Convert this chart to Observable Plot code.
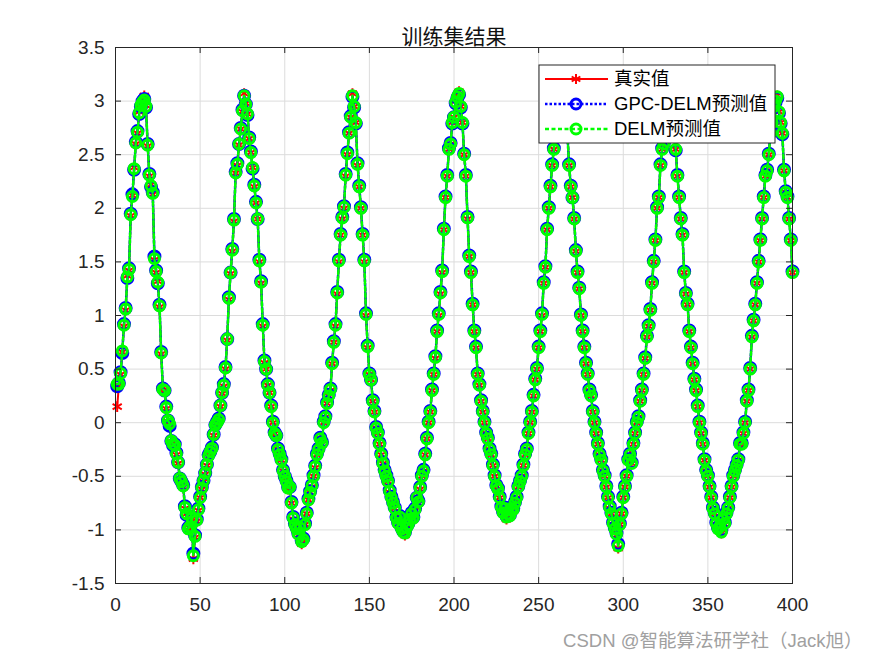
<!DOCTYPE html>
<html><head><meta charset="utf-8">
<script src="https://cdn.jsdelivr.net/npm/d3@7"></script>
<script src="https://cdn.jsdelivr.net/npm/@observablehq/plot@0.6"></script>
<style>body{margin:0;background:#fff;} #chart{width:875px;height:656px;}</style>
</head><body><div id="chart"></div>
<script>
const trueVals = [
0.15,0.35,0.45,0.66,0.9,1.05,1.37,1.42,1.93,2.12,
2.38,2.6,2.7,2.9,2.97,3.01,3.05,2.96,2.58,2.3,
2.22,2.13,1.52,1.4,1.32,1.08,0.64,0.3,0.29,0.13,
0.01,-0.02,-0.18,-0.2,-0.22,-0.3,-0.38,-0.53,-0.56,-0.6,
-0.8,-0.85,-1.0,-0.98,-0.9,-1.27,-1.07,-0.92,-0.82,-0.7,
-0.62,-0.55,-0.48,-0.4,-0.32,-0.28,-0.25,-0.12,-0.03,0.0,
0.02,0.15,0.27,0.34,0.5,0.77,1.15,1.39,1.6,1.88,
2.33,2.4,2.59,2.74,2.9,3.07,2.98,2.88,2.65,2.52,
2.38,2.2,2.05,1.9,1.5,1.3,0.9,0.56,0.5,0.35,
0.28,0.15,0.0,-0.1,-0.13,-0.25,-0.3,-0.35,-0.45,-0.5,
-0.55,-0.62,-0.6,-0.75,-0.9,-0.95,-1.0,-1.05,-0.98,-1.13,
-1.1,-0.95,-0.85,-0.72,-0.65,-0.6,-0.5,-0.42,-0.3,-0.25,
-0.15,-0.2,0.0,0.05,0.18,0.25,0.3,0.55,0.75,0.9,
1.2,1.5,1.75,1.9,2.0,2.3,2.5,2.7,2.85,3.07,
2.95,2.8,2.4,2.2,2.0,1.75,1.5,1.0,0.7,0.45,
0.4,0.2,0.1,-0.05,-0.1,-0.2,-0.3,-0.38,-0.45,-0.5,
-0.55,-0.65,-0.7,-0.75,-0.8,-0.9,-0.95,-0.88,-1.0,-1.03,
-1.05,-0.98,-0.95,-0.9,-0.85,-0.9,-0.82,-0.7,-0.75,-0.62,
-0.5,-0.45,-0.3,-0.15,0.0,0.1,0.3,0.45,0.6,0.85,
1.0,1.2,1.4,1.8,2.1,2.3,2.55,2.6,2.8,2.85,
3.0,3.05,3.09,2.95,2.8,2.5,2.3,1.9,1.55,1.4,
1.1,0.85,0.7,0.45,0.35,0.2,0.1,0.0,-0.1,-0.15,
-0.25,-0.3,-0.4,-0.5,-0.6,-0.62,-0.7,-0.8,-0.85,-0.8,
-0.9,-0.85,-0.88,-0.8,-0.82,-0.75,-0.7,-0.6,-0.55,-0.5,
-0.4,-0.3,-0.25,-0.1,0.0,0.1,0.25,0.4,0.5,0.7,
0.85,1.0,1.3,1.45,1.8,2.0,2.2,2.4,2.55,2.75,
2.85,2.95,3.0,3.05,3.02,2.85,2.7,2.4,2.2,2.1,
1.9,1.6,1.4,1.25,1.0,0.85,0.7,0.55,0.45,0.3,
0.25,0.1,0.0,-0.1,-0.2,-0.3,-0.35,-0.45,-0.5,-0.6,
-0.7,-0.8,-0.85,-0.95,-1.0,-1.05,-1.17,-0.95,-0.85,-0.7,
-0.6,-0.5,-0.35,-0.3,-0.38,-0.2,-0.1,0.0,0.05,0.2,
0.3,0.45,0.6,0.8,0.9,1.05,1.3,1.5,1.7,2.0,
2.1,2.4,2.55,2.6,2.8,2.95,3.0,3.02,2.9,2.75,
2.55,2.3,2.1,1.9,1.75,1.4,1.2,1.1,0.85,0.7,
0.55,0.4,0.3,0.15,0.0,-0.1,-0.2,-0.35,-0.45,-0.5,
-0.6,-0.7,-0.8,-0.85,-0.95,-1.0,-0.97,-1.03,-0.9,-0.95,
-0.85,-0.8,-0.7,-0.6,-0.5,-0.45,-0.4,-0.35,-0.2,-0.2,
-0.1,0.0,0.2,0.3,0.5,0.8,0.95,1.1,1.3,1.5,
1.7,1.9,2.1,2.3,2.35,2.5,2.7,2.8,2.95,3.0,
3.05,2.9,2.8,2.7,2.35,2.15,2.1,1.9,1.7,1.4
];
const gpcVals = [
0.34,0.37,0.47,0.65,0.92,1.07,1.35,1.44,1.95,2.13,
2.36,2.62,2.72,2.88,2.95,3.0,3.02,2.94,2.6,2.32,
2.2,2.15,1.55,1.42,1.3,1.1,0.66,0.32,0.3,0.15,
0.02,-0.03,-0.17,-0.21,-0.2,-0.28,-0.37,-0.52,-0.55,-0.58,
-0.78,-0.86,-0.98,-0.97,-0.9,-1.22,-1.05,-0.9,-0.8,-0.69,
-0.6,-0.54,-0.47,-0.39,-0.3,-0.27,-0.23,-0.11,-0.02,0.01,
0.04,0.16,0.28,0.36,0.52,0.78,1.17,1.4,1.62,1.9,
2.34,2.42,2.6,2.75,2.92,3.05,2.97,2.87,2.66,2.53,
2.37,2.22,2.06,1.9,1.52,1.32,0.92,0.58,0.5,0.36,
0.28,0.16,0.01,-0.09,-0.12,-0.24,-0.29,-0.34,-0.44,-0.5,
-0.54,-0.6,-0.6,-0.74,-0.88,-0.94,-0.98,-1.03,-0.97,-1.1,
-1.08,-0.94,-0.84,-0.71,-0.64,-0.58,-0.49,-0.4,-0.29,-0.24,
-0.14,-0.18,0.01,0.06,0.19,0.26,0.32,0.56,0.76,0.92,
1.22,1.52,1.76,1.92,2.02,2.32,2.52,2.71,2.86,3.04,
2.94,2.79,2.42,2.21,2.01,1.76,1.52,1.02,0.72,0.46,
0.4,0.21,0.11,-0.04,-0.09,-0.19,-0.29,-0.37,-0.44,-0.49,
-0.54,-0.63,-0.69,-0.74,-0.79,-0.88,-0.93,-0.87,-0.98,-1.01,
-1.02,-0.97,-0.94,-0.89,-0.84,-0.88,-0.8,-0.7,-0.73,-0.6,
-0.49,-0.44,-0.29,-0.14,0.01,0.11,0.31,0.46,0.62,0.86,
1.02,1.22,1.42,1.81,2.11,2.31,2.56,2.61,2.79,2.85,
2.98,3.03,3.06,2.94,2.79,2.51,2.31,1.92,1.56,1.41,
1.11,0.86,0.71,0.46,0.36,0.21,0.11,0.01,-0.09,-0.14,
-0.24,-0.29,-0.39,-0.49,-0.58,-0.61,-0.69,-0.78,-0.83,-0.79,
-0.87,-0.84,-0.86,-0.79,-0.8,-0.74,-0.69,-0.59,-0.54,-0.49,
-0.39,-0.29,-0.24,-0.09,0.01,0.11,0.26,0.41,0.51,0.71,
0.86,1.02,1.31,1.46,1.81,2.01,2.21,2.41,2.56,2.76,
2.86,2.94,2.99,3.03,3.0,2.84,2.69,2.41,2.21,2.1,
1.91,1.61,1.41,1.26,1.01,0.86,0.71,0.56,0.46,0.31,
0.26,0.11,0.01,-0.09,-0.19,-0.29,-0.34,-0.44,-0.49,-0.59,
-0.69,-0.78,-0.84,-0.93,-0.98,-1.03,-1.13,-0.94,-0.84,-0.69,
-0.59,-0.49,-0.34,-0.29,-0.37,-0.19,-0.09,0.01,0.06,0.21,
0.31,0.46,0.61,0.81,0.91,1.06,1.31,1.51,1.71,2.01,
2.11,2.41,2.56,2.61,2.79,2.94,2.99,3.0,2.89,2.74,
2.54,2.31,2.11,1.91,1.76,1.41,1.21,1.11,0.86,0.71,
0.56,0.41,0.31,0.16,0.01,-0.09,-0.19,-0.34,-0.44,-0.49,
-0.59,-0.69,-0.79,-0.84,-0.93,-0.98,-0.96,-1.0,-0.89,-0.93,
-0.84,-0.79,-0.69,-0.59,-0.49,-0.44,-0.39,-0.34,-0.19,-0.19,
-0.09,0.01,0.21,0.31,0.51,0.81,0.96,1.11,1.31,1.51,
1.71,1.91,2.11,2.31,2.36,2.51,2.71,2.81,2.94,2.99,
3.03,2.89,2.79,2.69,2.36,2.16,2.11,1.91,1.71,1.41
];
const delmVals = [
0.36,0.36,0.46,0.67,0.91,1.06,1.36,1.43,1.94,2.11,
2.37,2.61,2.71,2.89,2.96,2.99,3.01,2.95,2.59,2.31,
2.21,2.14,1.53,1.41,1.31,1.09,0.65,0.31,0.3,0.14,
0.02,-0.01,-0.17,-0.2,-0.21,-0.29,-0.37,-0.52,-0.55,-0.59,
-0.79,-0.85,-0.99,-0.97,-0.89,-1.24,-1.06,-0.91,-0.81,-0.7,
-0.61,-0.54,-0.47,-0.39,-0.31,-0.27,-0.24,-0.11,-0.02,0.0,
0.03,0.16,0.28,0.35,0.51,0.78,1.16,1.4,1.61,1.89,
2.33,2.41,2.6,2.74,2.91,3.05,2.97,2.88,2.65,2.52,
2.38,2.21,2.05,1.9,1.51,1.31,0.91,0.57,0.5,0.35,
0.28,0.15,0.0,-0.1,-0.12,-0.25,-0.3,-0.35,-0.45,-0.5,
-0.55,-0.61,-0.6,-0.75,-0.89,-0.95,-0.99,-1.04,-0.98,-1.11,
-1.09,-0.95,-0.85,-0.72,-0.65,-0.59,-0.5,-0.41,-0.3,-0.25,
-0.15,-0.19,0.0,0.05,0.18,0.25,0.31,0.55,0.75,0.91,
1.21,1.51,1.75,1.91,2.01,2.31,2.51,2.7,2.85,3.05,
2.95,2.8,2.41,2.2,2.0,1.75,1.51,1.01,0.71,0.45,
0.4,0.2,0.1,-0.05,-0.1,-0.2,-0.3,-0.38,-0.45,-0.5,
-0.55,-0.64,-0.7,-0.75,-0.8,-0.89,-0.94,-0.88,-0.99,-1.02,
-1.03,-0.98,-0.95,-0.9,-0.85,-0.89,-0.81,-0.7,-0.74,-0.61,
-0.5,-0.45,-0.3,-0.15,0.0,0.1,0.3,0.45,0.61,0.85,
1.01,1.21,1.41,1.8,2.1,2.3,2.55,2.6,2.8,2.85,
2.99,3.04,3.07,2.95,2.8,2.5,2.3,1.91,1.55,1.4,
1.1,0.85,0.7,0.45,0.35,0.2,0.1,0.0,-0.1,-0.15,
-0.25,-0.3,-0.4,-0.5,-0.59,-0.62,-0.7,-0.79,-0.84,-0.8,
-0.88,-0.85,-0.87,-0.8,-0.81,-0.75,-0.7,-0.6,-0.55,-0.5,
-0.4,-0.3,-0.25,-0.1,0.0,0.1,0.25,0.4,0.5,0.7,
0.85,1.01,1.3,1.45,1.8,2.0,2.2,2.4,2.55,2.75,
2.85,2.95,3.0,3.04,3.01,2.85,2.7,2.4,2.2,2.1,
1.9,1.6,1.4,1.25,1.0,0.85,0.7,0.55,0.45,0.3,
0.25,0.1,0.0,-0.1,-0.2,-0.3,-0.35,-0.45,-0.5,-0.6,
-0.7,-0.79,-0.85,-0.94,-0.99,-1.04,-1.15,-0.95,-0.85,-0.7,
-0.6,-0.5,-0.35,-0.3,-0.38,-0.2,-0.1,0.0,0.05,0.2,
0.3,0.45,0.6,0.8,0.9,1.05,1.3,1.5,1.7,2.0,
2.1,2.4,2.55,2.6,2.8,2.95,3.0,3.01,2.9,2.75,
2.55,2.3,2.1,1.9,1.75,1.4,1.2,1.1,0.85,0.7,
0.55,0.4,0.3,0.15,0.0,-0.1,-0.2,-0.35,-0.45,-0.5,
-0.6,-0.7,-0.8,-0.85,-0.94,-0.99,-0.97,-1.02,-0.9,-0.94,
-0.85,-0.8,-0.7,-0.6,-0.5,-0.45,-0.4,-0.35,-0.2,-0.2,
-0.1,0.0,0.2,0.3,0.5,0.8,0.95,1.1,1.3,1.5,
1.7,1.9,2.1,2.3,2.35,2.5,2.7,2.8,2.95,3.0,
3.04,2.9,2.8,2.7,2.35,2.15,2.1,1.9,1.7,1.4
];
const xTicks = [0,50,100,150,200,250,300,350,400];
const yTicks = [-1.5,-1,-0.5,0,0.5,1,1.5,2,2.5,3,3.5];
const seriesNames = ["真实值","GPC-DELM预测值","DELM预测值"];
const titleText = "训练集结果";
const watermarkText = "CSDN @智能算法研学社（Jack旭）";

const rows = trueVals.map((v,i)=>({x:i+1, t:v, g:gpcVals[i], d:delmVals[i]}));
const W=875,H=656,mL=115,mR=83,mT=47,mB=73;
const fw=W-mL-mR, fh=H-mT-mB;
const axisColor="#262626";
const latin="'Liberation Sans', Arial, 'Noto Sans CJK SC', sans-serif";
const cjk="'Noto Sans CJK SC', sans-serif";

const chart = Plot.plot({
  width:W, height:H, marginLeft:mL, marginRight:mR, marginTop:mT, marginBottom:mB,
  style:{fontFamily:latin, fontSize:"18px", color:axisColor, background:"#fff"},
  x:{domain:[0,400], label:null},
  y:{domain:[-1.5,3.5], label:null},
  marks:[
    Plot.gridX(xTicks,{stroke:"#dcdcdc", strokeOpacity:1}),
    Plot.gridY(yTicks,{stroke:"#dcdcdc", strokeOpacity:1}),
    Plot.line(rows,{x:"x",y:"t",stroke:"#ff0000",strokeWidth:2}),
    Plot.dot(rows,{x:"x",y:"t",symbol:"asterisk",stroke:"#ff0000",r:5,strokeWidth:2}),
    Plot.line(rows,{x:"x",y:"g",stroke:"#0000ff",strokeWidth:2.5,strokeDasharray:"2.5,2"}),
    Plot.dot(rows,{x:"x",y:"g",stroke:"#0000ff",fill:"none",r:5.5,strokeWidth:3}),
    Plot.line(rows,{x:"x",y:"d",stroke:"#00ff00",strokeWidth:2.5,strokeDasharray:"4,2.5"}),
    Plot.dot(rows,{x:"x",y:"d",stroke:"#00ff00",fill:"none",r:5,strokeWidth:3}),
    Plot.ruleX(xTicks,{stroke:axisColor, insetTop:fh-6}),
    Plot.ruleX(xTicks,{stroke:axisColor, insetBottom:fh-6}),
    Plot.ruleY(yTicks,{stroke:axisColor, insetRight:fw-6}),
    Plot.ruleY(yTicks,{stroke:axisColor, insetLeft:fw-6}),
    Plot.frame({stroke:axisColor}),
    Plot.axisX(xTicks,{tickSize:0, tickPadding:14, fontSize:19, fill:axisColor, tickFormat:d=>String(d)}),
    Plot.axisY(yTicks,{tickSize:0, tickPadding:11, fontSize:19, fill:axisColor, tickFormat:d=>String(d)}),
    Plot.text([titleText],{frameAnchor:"top", dy:-4, fontSize:21, fontFamily:cjk, fill:"#111", textAnchor:"middle", lineAnchor:"bottom"}),
    Plot.text([watermarkText],{frameAnchor:"bottom-right", dx:70, dy:63, fontSize:18.5, fontFamily:latin, fill:"#a0a0a0", textAnchor:"end", lineAnchor:"bottom"})
  ]
});
document.getElementById("chart").appendChild(chart);

// Legend inside the axes (upper right)
const svg = d3.select(chart);
const lg = svg.append("g").attr("transform","translate(539,65)").attr("text-anchor","start");
lg.append("rect").attr("width",236).attr("height",78).attr("fill","#fff").attr("stroke","#262626").attr("stroke-width",1);
const styles = [
  {stroke:"#ff0000", dash:null, sym:"asterisk"},
  {stroke:"#0000ff", dash:"2.5,2", sym:"circle"},
  {stroke:"#00ff00", dash:"4,2.5", sym:"circle"}
];
seriesNames.forEach((name,i)=>{
  const cy = 14 + i*25;
  const s = styles[i];
  const ln = lg.append("line").attr("x1",6).attr("x2",69).attr("y1",cy).attr("y2",cy)
    .attr("stroke",s.stroke).attr("stroke-width",i===0?2:2.5);
  if (s.dash) ln.attr("stroke-dasharray",s.dash);
  if (s.sym==="asterisk") {
    lg.append("path").attr("d",d3.symbol(d3.symbolAsterisk, 70)())
      .attr("transform",`translate(37,${cy})`).attr("fill","none").attr("stroke",s.stroke).attr("stroke-width",2);
  } else {
    lg.append("circle").attr("cx",37).attr("cy",cy).attr("r",5).attr("fill","none")
      .attr("stroke",s.stroke).attr("stroke-width",3);
  }
  lg.append("text").attr("x",75).attr("y",cy).attr("dy","0.35em").attr("text-anchor","start")
    .attr("font-family",latin).attr("font-size",18.5).attr("fill","#000").text(name);
});
</script>
</body></html>
